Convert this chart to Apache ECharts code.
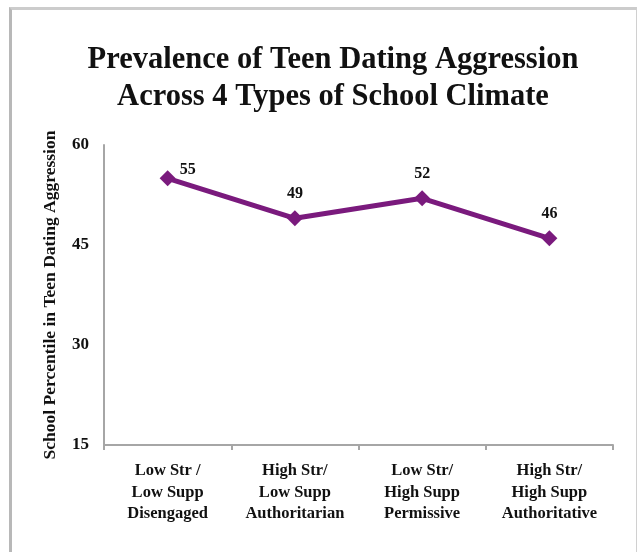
<!DOCTYPE html>
<html>
<head>
<meta charset="utf-8">
<script src="https://cdn.jsdelivr.net/npm/echarts@6/dist/echarts.min.js"></script>
<style>
  html, body { margin: 0; padding: 0; background: #fff; }
  #frame {
    position: absolute; left: 9px; top: 7px; width: 628px; height: 560px;
    border-top: 3px solid #cccccc; border-left: 3px solid #b8b8b8;
    border-right: 1px solid #d0d0d0; box-sizing: border-box;
  }
  #main { position: absolute; left: 0; top: 0; width: 637px; height: 552px; }
</style>
</head>
<body>
<div id="frame"></div>
<div id="main"></div>
<script>
// climate types
var categories = [
  "Low Str /\nLow Supp\nDisengaged",
  "High Str/\nLow Supp\nAuthoritarian",
  "Low Str/\nHigh Supp\nPermissive",
  "High Str/\nHigh Supp\nAuthoritative"
];
var percentile = [55, 49, 52, 46];
var yTicks = [15, 30, 45, 60];

var serif = "'Liberation Serif', 'Times New Roman', serif";
var purple = "#7a1a7d";

var myChart = echarts.init(document.getElementById("main"));
var option = {
  backgroundColor: "transparent",
  title: {
    text: "Prevalence of Teen Dating Aggression\nAcross 4 Types of School Climate",
    left: 328,
    textAlign: "center",
    top: 37,
    textStyle: {
      fontFamily: serif,
      fontWeight: "bold",
      fontSize: 30.5,
      lineHeight: 37,
      color: "#111"
    }
  },
  grid: { left: 104, right: 24, top: 145, bottom: 107 },
  xAxis: {
    type: "category",
    data: categories,
    axisLine: { lineStyle: { color: "#a6a6a6", width: 2 } },
    axisTick: { show: true, length: 5, lineStyle: { color: "#a6a6a6", width: 2 } },
    axisLabel: {
      interval: 0,
      margin: 15,
      fontFamily: serif,
      fontWeight: "bold",
      fontSize: 16.5,
      lineHeight: 21.5,
      color: "#111"
    }
  },
  yAxis: {
    type: "value",
    min: yTicks[0],
    max: yTicks[yTicks.length - 1],
    interval: 15,
    name: "School Percentile in Teen Dating Aggression",
    nameLocation: "middle",
    nameRotate: 90,
    nameGap: 45,
    nameTextStyle: { fontFamily: serif, fontWeight: "bold", fontSize: 17.5, color: "#111" },
    axisLine: { show: true, lineStyle: { color: "#a6a6a6", width: 2 } },
    axisTick: { show: false },
    splitLine: { show: false },
    axisLabel: { margin: 15, fontFamily: serif, fontWeight: "bold", fontSize: 17, color: "#111" }
  },
  series: [
    {
      type: "line",
      data: percentile.map(function (v, i) {
        var item = { value: v };
        if (i === 0) item.label = { offset: [20, 16] };
        return item;
      }),
      symbol: "diamond",
      symbolSize: 16,
      lineStyle: { color: purple, width: 5 },
      itemStyle: { color: purple },
      label: {
        show: true,
        position: "top",
        distance: 8,
        fontFamily: serif,
        fontWeight: "bold",
        fontSize: 16,
        color: "#111"
      }
    }
  ]
};
option && myChart.setOption(option);
</script>
</body>
</html>
